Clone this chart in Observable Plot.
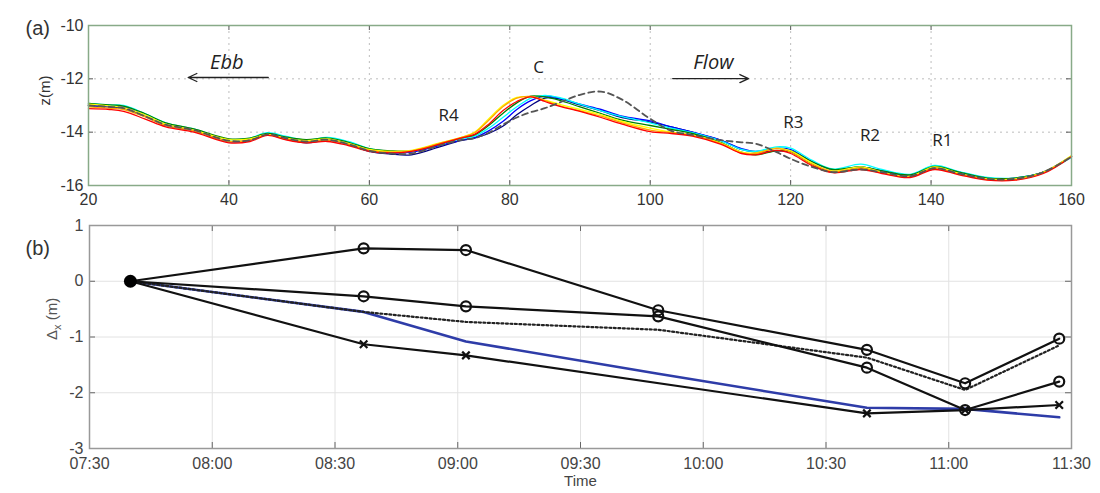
<!DOCTYPE html>
<html><head><meta charset="utf-8">
<script src="https://cdn.jsdelivr.net/npm/d3@7"></script>
<script src="https://cdn.jsdelivr.net/npm/@observablehq/plot@0.6"></script>
<style>body{margin:0;background:#fff;} #chart svg{display:block;}</style>
</head><body><div id="chart"></div>
<script>
// ---------- Panel (a): bed profiles ----------
const distance = [20,23,25,28,31,35,40,43,45.5,48,51,54,57,60,63,66,70,73,75,77,79,81,83,85,87,90,93,96,100,103,106,110,113,115,118,120,123,126,130,133,137,140.5,144,148,152,156,160];
const profNavy   = [-13.0,-13.05,-13.1,-13.4,-13.75,-13.95,-14.35,-14.3,-14.1,-14.25,-14.4,-14.3,-14.45,-14.72,-14.82,-14.85,-14.55,-14.32,-14.22,-14.05,-13.78,-13.35,-13.0,-12.72,-12.75,-12.98,-13.2,-13.45,-13.62,-13.8,-14.0,-14.3,-14.65,-14.75,-14.7,-14.75,-15.2,-15.5,-15.35,-15.45,-15.62,-15.35,-15.55,-15.75,-15.72,-15.5,-14.9];
const profBlue   = [-12.98,-13.05,-13.05,-13.35,-13.7,-13.92,-14.35,-14.3,-14.05,-14.2,-14.35,-14.25,-14.4,-14.68,-14.78,-14.75,-14.5,-14.3,-14.2,-13.95,-13.6,-13.15,-12.82,-12.65,-12.72,-12.95,-13.15,-13.4,-13.58,-13.8,-14.0,-14.3,-14.62,-14.72,-14.6,-14.65,-15.1,-15.42,-15.3,-15.45,-15.6,-15.3,-15.5,-15.72,-15.75,-15.5,-14.9];
const profCyan   = [-12.92,-12.98,-13.0,-13.3,-13.65,-13.88,-14.28,-14.22,-14.02,-14.15,-14.3,-14.2,-14.35,-14.62,-14.72,-14.72,-14.45,-14.25,-14.15,-13.85,-13.45,-13.05,-12.72,-12.62,-12.7,-12.95,-13.2,-13.42,-13.65,-13.85,-14.02,-14.32,-14.65,-14.72,-14.55,-14.6,-15.05,-15.38,-15.2,-15.4,-15.58,-15.25,-15.48,-15.7,-15.72,-15.5,-14.95];
const profGreen  = [-12.92,-12.98,-13.02,-13.3,-13.65,-13.88,-14.25,-14.22,-14.05,-14.18,-14.28,-14.22,-14.38,-14.62,-14.7,-14.7,-14.45,-14.22,-14.1,-13.75,-13.3,-12.9,-12.65,-12.68,-12.8,-13.05,-13.3,-13.55,-13.75,-13.9,-14.05,-14.38,-14.75,-14.85,-14.7,-14.7,-15.1,-15.4,-15.3,-15.45,-15.6,-15.28,-15.5,-15.72,-15.72,-15.5,-14.9];
const profYellow = [-12.95,-13.02,-13.08,-13.35,-13.7,-13.92,-14.28,-14.25,-14.08,-14.22,-14.32,-14.25,-14.42,-14.65,-14.72,-14.68,-14.4,-14.2,-14.0,-13.5,-13.0,-12.7,-12.68,-12.8,-12.95,-13.15,-13.35,-13.6,-13.85,-14.0,-14.1,-14.4,-14.75,-14.78,-14.6,-14.7,-15.15,-15.45,-15.3,-15.5,-15.65,-15.3,-15.55,-15.75,-15.75,-15.5,-14.88];
const profOrange = [-13.05,-13.1,-13.15,-13.42,-13.75,-13.95,-14.35,-14.3,-14.1,-14.25,-14.38,-14.3,-14.45,-14.68,-14.75,-14.7,-14.42,-14.2,-14.02,-13.55,-13.05,-12.72,-12.66,-12.82,-13.0,-13.2,-13.4,-13.65,-13.92,-14.02,-14.12,-14.42,-14.78,-14.8,-14.62,-14.75,-15.2,-15.48,-15.35,-15.52,-15.68,-15.35,-15.58,-15.78,-15.78,-15.52,-14.9];
const profRed    = [-13.12,-13.15,-13.22,-13.5,-13.8,-14.0,-14.4,-14.35,-14.12,-14.28,-14.4,-14.35,-14.5,-14.72,-14.78,-14.72,-14.45,-14.22,-14.08,-13.7,-13.2,-12.85,-12.68,-12.85,-13.02,-13.22,-13.45,-13.7,-13.98,-14.05,-14.15,-14.45,-14.8,-14.85,-14.68,-14.8,-15.25,-15.52,-15.4,-15.55,-15.7,-15.4,-15.6,-15.8,-15.8,-15.55,-14.92];
const profDashed = [-13.0,-13.05,-13.1,-13.4,-13.72,-13.92,-14.32,-14.3,-14.08,-14.22,-14.35,-14.28,-14.45,-14.7,-14.8,-14.8,-14.5,-14.3,-14.22,-14.02,-13.72,-13.45,-13.25,-13.1,-12.9,-12.6,-12.48,-12.78,-13.5,-13.95,-14.1,-14.3,-14.38,-14.43,-14.75,-15.0,-15.3,-15.5,-15.4,-15.5,-15.65,-15.35,-15.55,-15.75,-15.75,-15.5,-14.92];
const profileNames = ["navy","blue","cyan","green","yellow","orange","red"];
const profileValues = [profNavy, profBlue, profCyan, profGreen, profYellow, profOrange, profRed];
const xTicksA = [20,40,60,80,100,120,140,160];
const yTicksA = [-10,-12,-14,-16];
const labelsA = [
  {text:"C",  x:84.1,  y:-11.57},
  {text:"R4", x:71.3,  y:-13.37},
  {text:"R3", x:120.4, y:-13.64},
  {text:"R2", x:131.3, y:-14.12},
  {text:"R1", x:141.6, y:-14.31}
];
const flowLabels = [
  {text:"Ebb",  x:39.7,  y:-11.39},
  {text:"Flow", x:109.0, y:-11.39}
];
const flowArrows = [
  {x1:45.6, y1:-11.95, x2:34.2, y2:-11.95},
  {x1:103.2, y1:-11.99, x2:114.0, y2:-11.99}
];

// ---------- Panel (b): displacement vs time ----------
const timesAll   = ["07:40","08:37","09:02","09:49","10:40","11:04","11:27"];
const seriesSq   = [0, 0.59, 0.56, -0.52, -1.23, -1.83, -1.03];
const seriesCirc = [0, -0.27, -0.45, -0.63, -1.55, -2.31, -1.8];
const seriesMean = [0, -0.55, -0.73, -0.87, -1.37, -1.95, -1.15];
const seriesBlue = [0, -0.55, -1.08, -1.66, -2.27, -2.29, -2.44];
const timesCross = ["07:40","08:37","09:02","10:40","11:04","11:27"];
const seriesCross = [0, -1.13, -1.33, -2.37, -2.31, -2.22];
const xTicksB = ["07:30","08:00","08:30","09:00","09:30","10:00","10:30","11:00","11:30"];
const yTicksB = [-3,-2,-1,0,1];

// ---------- build ----------
const profColors = ["#2b2c8c","#2f6bd0","#31b4d6","#4caf50","#f2cf22","#f7962a","#e6392a"];
const rowsA = profileNames.flatMap((s,i) => distance.map((x,j) => ({series:s, x, z:profileValues[i][j]})));
const rowsDash = distance.map((x,j) => ({x, z:profDashed[j]}));
const fmtNum = d => String(d);

const W = 1100;
const fontA = "'Liberation Sans', Arial, sans-serif";
const innerA = W - 88 - 29, frameHA = 160;
const plotA = Plot.plot({
  width: W, height: 210, marginLeft: 88, marginRight: 29, marginTop: 25, marginBottom: 25,
  style: {fontFamily: fontA, fontSize: "15px", color: "#333", background: "#fff"},
  x: {domain: [20,160], label: null},
  y: {domain: [-16,-10], label: null},
  color: {domain: profileNames, range: profColors},
  marks: [
    Plot.gridX(xTicksA.slice(1,-1), {stroke:"#bdbdbd", strokeOpacity:1, strokeDasharray:"2,4"}),
    Plot.gridY([-12,-14], {stroke:"#bdbdbd", strokeOpacity:1, strokeDasharray:"2,4"}),
    Plot.line(rowsA, {x:"x", y:"z", z:"series", stroke:"series", strokeWidth:1.3, curve:"catmull-rom"}),
    Plot.line(rowsDash, {x:"x", y:"z", stroke:"#555", strokeWidth:1.8, strokeDasharray:"6,4", curve:"catmull-rom"}),
    Plot.tickX(xTicksA, {x:d=>d, insetTop:frameHA-5, stroke:"#555"}),
    Plot.tickX(xTicksA, {x:d=>d, insetBottom:frameHA-5, stroke:"#555"}),
    Plot.tickY(yTicksA, {y:d=>d, insetRight:innerA-5, stroke:"#555"}),
    Plot.tickY(yTicksA, {y:d=>d, insetLeft:innerA-5, stroke:"#555"}),
    Plot.axisX(xTicksA, {tickSize:0, tickPadding:8, fontSize:16, fill:"#333", tickFormat:fmtNum, label:null}),
    Plot.axisY(yTicksA, {tickSize:0, tickPadding:5, fontSize:16, fill:"#333", tickFormat:fmtNum, label:null}),
    Plot.frame({stroke:"#88aa88", strokeWidth:1.5}),
    Plot.text(["z(m)"], {frameAnchor:"left", dx:-43, rotate:-90, fontSize:15, fill:"#333"}),
    Plot.text(["(a)"], {frameAnchor:"top-left", dx:-63, dy:-5, fontSize:20, fill:"#333"}),
    Plot.text(labelsA, {x:"x", y:"y", text:"text", fontSize:17, fill:"#222", fontFamily:"'Open Sans', sans-serif"}),
    Plot.text(flowLabels, {x:"x", y:"y", text:"text", fontSize:20, fontStyle:"italic", fill:"#222", fontFamily:"'Open Sans', sans-serif"}),
    Plot.arrow(flowArrows, {x1:"x1", y1:"y1", x2:"x2", y2:"y2", stroke:"#222", strokeWidth:1.3, headLength:11, headAngle:50})
  ]
});

const parseT = d3.timeParse("%H:%M");
const rowsOf = (times, vals) => times.map((t,i) => ({t:parseT(t), v:vals[i]}));
const rSq = rowsOf(timesAll, seriesSq), rCi = rowsOf(timesAll, seriesCirc), rMe = rowsOf(timesAll, seriesMean), rBl = rowsOf(timesAll, seriesBlue), rCr = rowsOf(timesCross, seriesCross);
const tTicks = xTicksB.map(parseT);
const innerB = W - 89 - 29, frameHB = 223;
const plotB = Plot.plot({
  width: W, height: 283, marginLeft: 89, marginRight: 29, marginTop: 15, marginBottom: 45,
  style: {fontFamily: fontA, fontSize: "15px", color: "#444", background: "#fff"},
  x: {type:"time", domain: [tTicks[0], tTicks[tTicks.length-1]], label: null},
  y: {domain: [-3,1], label: null},
  marks: [
    Plot.gridX(tTicks.slice(1,-1), {stroke:"#e2e2e2", strokeOpacity:1}),
    Plot.gridY([-2,-1,0], {stroke:"#e2e2e2", strokeOpacity:1}),
    Plot.tickX(tTicks, {x:d=>d, insetTop:frameHB-6, stroke:"#666"}),
    Plot.tickX(tTicks, {x:d=>d, insetBottom:frameHB-6, stroke:"#666"}),
    Plot.tickY(yTicksB, {y:d=>d, insetRight:innerB-6, stroke:"#666"}),
    Plot.tickY(yTicksB, {y:d=>d, insetLeft:innerB-6, stroke:"#666"}),
    Plot.line(rBl, {x:"t", y:"v", stroke:"#2e3ca8", strokeWidth:2.6}),
    Plot.line(rMe, {x:"t", y:"v", stroke:"#222", strokeWidth:2.2, strokeDasharray:"2,2.5"}),
    Plot.line(rCr, {x:"t", y:"v", stroke:"#111", strokeWidth:2.2}),
    Plot.line(rCi, {x:"t", y:"v", stroke:"#111", strokeWidth:2.2}),
    Plot.line(rSq, {x:"t", y:"v", stroke:"#111", strokeWidth:2.2}),
    Plot.dot(rCr.slice(1), {x:"t", y:"v", symbol:"times", r:3.5, stroke:"#111", strokeWidth:2.2}),
    Plot.dot(rCi.slice(1), {x:"t", y:"v", symbol:"circle", r:5, stroke:"#111", strokeWidth:2.2, fill:"none"}),
    Plot.dot(rSq.slice(1), {x:"t", y:"v", symbol:"circle", r:5, stroke:"#111", strokeWidth:2.2, fill:"none"}),
    Plot.dot(rSq.slice(0,1), {x:"t", y:"v", r:6.5, fill:"#000"}),
    Plot.axisX(tTicks, {tickSize:0, tickPadding:9, tickFormat:d3.timeFormat("%H:%M"), fontSize:16, fill:"#444", label:null}),
    Plot.axisY(yTicksB, {tickSize:0, tickPadding:6, fontSize:16, fill:"#444", tickFormat:fmtNum, label:null}),
    Plot.frame({stroke:"#999", strokeWidth:1.5}),
    Plot.text(["Time"], {frameAnchor:"bottom", dy:37, fontSize:15, fill:"#444"}),
    Plot.text(["\u0394x (m)"], {frameAnchor:"left", dx:-37, dy:3, rotate:-90, fontSize:15, fill:"#555", className:"dxlabel"}),
    Plot.text(["(b)"], {frameAnchor:"top-left", dx:-64, dy:15, fontSize:20, fill:"#333"})
  ]
});
document.getElementById("chart").append(plotA, plotB);
// subscript x in the y-axis label of panel (b)
plotB.querySelectorAll("g.dxlabel text").forEach(t => {
  t.textContent = "";
  const ns = "http://www.w3.org/2000/svg";
  const a = document.createElementNS(ns, "tspan"); a.textContent = "\u0394";
  const b = document.createElementNS(ns, "tspan"); b.textContent = "x"; b.setAttribute("font-size", "11"); b.setAttribute("dy", "4");
  const c = document.createElementNS(ns, "tspan"); c.textContent = " (m)"; c.setAttribute("dy", "-4");
  t.append(a, b, c);
});
</script></body></html>
